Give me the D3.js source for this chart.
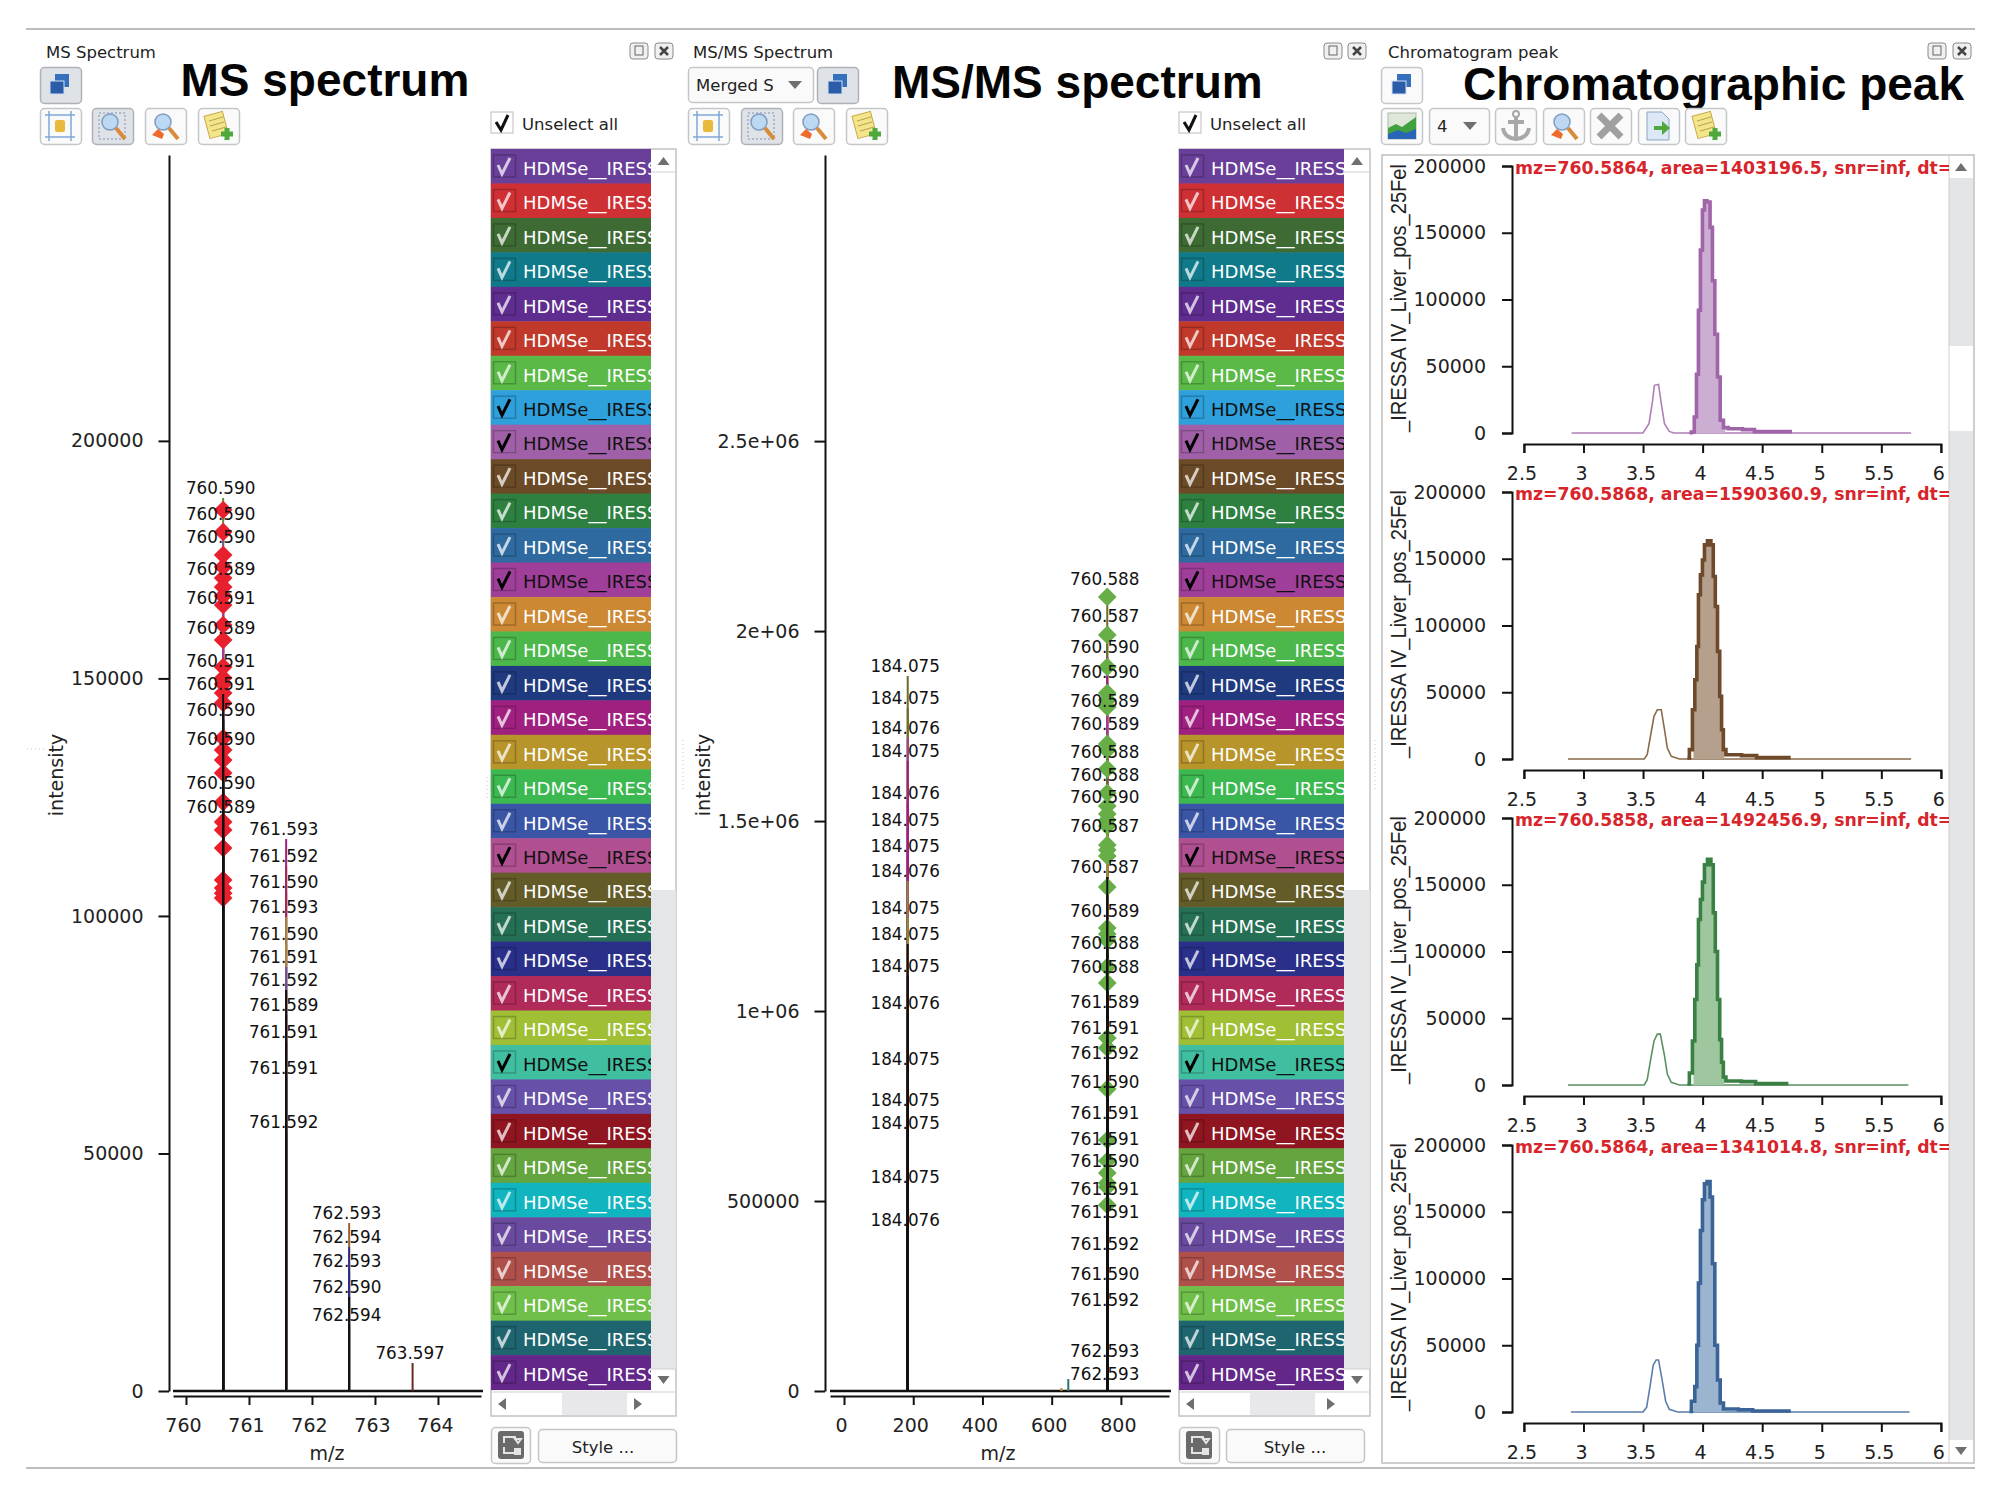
<!DOCTYPE html>
<html lang="en">
<head>
<meta charset="UTF-8">
<title>MS spectrum, MS/MS spectrum, chromatographic peak</title>
<script src="https://d3js.org/d3.v7.min.js"></script>
<style>
    html, body { margin: 0; padding: 0; background: #fff; }
    svg { display: block; }
    text { font-family: "DejaVu Sans", sans-serif; fill: #222; }
    .heading { font-family: "Liberation Sans", Arial, sans-serif; font-weight: 700; font-size: 46px; fill: #050505; }
    .ui { font-size: 16.5px; fill: #222; }
    .tick text, .axis-label { font-size: 19px; }
    .peak-label { font-size: 16.8px; fill: #111; }
    .axis path, .axis line { stroke: #111; stroke-width: 2px; }
    .row-text { font-size: 18px; }
    .red-title { font-weight: 700; font-size: 17.3px; fill: #d8252b; }
</style>
</head>
<body>
<svg id="page" width="2000" height="1499"></svg>
<script>
// ---- MS spectrum values
const msMz = [760.59, 761.59, 762.59, 763.597];
const msLabels760 = ["760.590","760.590","760.590","760.589","760.591","760.589","760.591","760.591","760.590","760.590","760.590","760.589"];
const msHeights760 = [187970,182500,177660,170930,164820,158510,151560,146720,141250,135140,125880,120830];
const msColors760 = ["#6b8a2a","#7a5a8a","#8a4a90","#8a4a90","#a03f9a","#a03f9a","#5a5aa8","#111","#111","#111","#111","#111"];
const msLabels761 = ["761.593","761.592","761.590","761.593","761.590","761.591","761.592","761.589","761.591","761.591","761.592"];
const msHeights761 = [116200,110500,105040,99780,94090,89250,84410,79150,73460,65890,54520];
const msColors761 = ["#a02080","#a02a5a","#a02a5a","#a08a3a","#a08a3a","#6650a8","#111","#111","#111","#111","#111"];
const msLabels762 = ["762.593","762.594","762.593","762.590","762.594"];
const msHeights762 = [35360,30310,25260,19790,13890];
const msColors762 = ["#a0602b","#2a2f8a","#2a2f8a","#111","#111"];
const msLabels763 = ["763.597"];
const msHeights763 = [5890];
const msColors763 = ["#6b2a20"];
const msDiamonds = [185450,180820,175980,173450,171140,169240,167350,165450,161240,158090,152400,150090,148820,146930,144820,137460,134930,132830,130090,123980,119780,118090,114300,107570,105880,104800,103780];
const msYTicks = [0,50000,100000,150000,200000];
const msXTicks = [760,761,762,763,764];

// ---- MS/MS spectrum values
const ms2Labels184 = ["184.075","184.075","184.076","184.075","184.076","184.075","184.075","184.076","184.075","184.075","184.075","184.076","184.075","184.075","184.075","184.075","184.076"];
const ms2Heights184 = [1881900,1797700,1718700,1658200,1547600,1476600,1408100,1342300,1244900,1176500,1092300,994900,847500,739600,679100,536900,423800];
const ms2Colors184 = ["#6b6b2a","#6b6b2a","#a03f9a","#a02080","#a02080","#a02080","#a02080","#8a8a3a","#8a8a3a","#111","#111","#111","#111","#111","#111","#111","#111"];
const ms2Labels760 = ["760.588","760.587","760.590","760.590","760.589","760.589","760.588","760.588","760.590","760.587","760.587","760.589","760.588","760.588","761.589","761.591","761.592","761.590","761.591","761.591","761.590","761.591","761.591","761.592","761.590","761.592","762.593","762.593"];
const ms2Heights760 = [2110900,2013500,1931900,1866100,1789800,1729200,1655500,1595000,1537100,1460800,1352800,1237000,1152800,1089600,997500,929100,863300,787000,705400,636900,579000,505300,444800,360600,281600,213200,79000,18400];
const ms2Colors760 = ["#6b6b2a","#6b6b2a","#a02080","#a02080","#a03f9a","#6b6b2a","#6b6b2a","#a08a3a","#a08a3a","#a08a3a","#111","#111","#111","#111","#111","#111","#111","#111","#111","#111","#111","#111","#111","#111","#111","#111","#111","#111"];
const ms2Small = [648, 628];
const ms2SmallHeights = [31500, 7900];
const ms2SmallColors = ["#257a70", "#cc8833"];
const ms2Diamonds = [2089800,1989800,1905600,1837100,1818700,1800300,1702900,1687100,1637100,1573900,1539700,1518700,1502900,1487100,1437100,1423900,1408100,1326500,1218600,1202800,1187000,1116000,1073900,929100,902800,794900,660600,605400,573800,547500,536900,489600];
const ms2YTicks = [0,500000,1000000,1500000,2000000,2500000];
const ms2YLabels = ["0","500000","1e+06","1.5e+06","2e+06","2.5e+06"];
const ms2XTicks = [0,200,400,600,800];

// ---- chromatogram values (retention time, intensity)
const chromTitles = [
    "mz=760.5864, area=1403196.5, snr=inf, dt=",
    "mz=760.5868, area=1590360.9, snr=inf, dt=",
    "mz=760.5858, area=1492456.9, snr=inf, dt=",
    "mz=760.5864, area=1341014.8, snr=inf, dt="
];
const thinRt1 = [2.90,3.50,3.55,3.58,3.595,3.63,3.653,3.68,3.72,3.76,5.75];
const thinInt1 = [0,0,7000,24000,35700,36400,22000,7000,1200,0,0];
const mainRt1 = [3.89,3.92,3.94,3.957,3.973,3.99,4.007,4.024,4.05,4.075,4.09,4.115,4.135,4.16,4.19,4.24,4.43,4.44,4.75];
const mainInt1 = [300,700,12000,44000,92000,137000,167000,174000,173000,154000,114000,74000,42000,9500,4000,3200,2500,1000,1000];
const thinRt2 = [2.87,3.51,3.535,3.562,3.592,3.62,3.653,3.68,3.704,3.737,3.805,5.75];
const thinInt2 = [0,0,3200,17000,32000,36900,36900,22000,8200,2000,0,0];
const mainRt2 = [3.872,3.906,3.923,3.946,3.957,3.973,3.99,4.007,4.024,4.058,4.081,4.098,4.115,4.135,4.152,4.166,4.182,4.209,4.445,4.462,4.739];
const mainInt2 = [750,7000,36900,59400,84300,123000,137900,149100,160400,163400,160400,136700,114200,80600,46900,21900,7000,3200,2500,1000,1000];
const thinRt3 = [2.87,3.51,3.535,3.562,3.592,3.62,3.645,3.68,3.704,3.737,3.805,5.727];
const thinInt3 = [0,0,4000,18000,33000,38100,38100,22000,8000,2000,0,0];
const mainRt3 = [3.872,3.906,3.923,3.946,3.957,3.973,3.99,4.007,4.024,4.058,4.081,4.098,4.115,4.135,4.152,4.166,4.182,4.209,4.44,4.45,4.72];
const mainInt3 = [750,9000,33000,64000,90000,124000,139000,152000,165000,169000,165000,129000,100000,64000,34000,17000,6000,3000,2500,1000,1000];
const thinRt4 = [2.894,3.50,3.53,3.56,3.585,3.61,3.63,3.66,3.69,3.72,3.79,5.737];
const thinInt4 = [0,0,3500,20000,35000,39000,39000,24000,8000,2000,0,0];
const mainRt4 = [3.889,3.923,3.946,3.957,3.973,3.99,4.007,4.024,4.05,4.075,4.09,4.115,4.135,4.16,4.19,4.41,4.43,4.74];
const mainInt4 = [500,8000,19000,50000,96500,136000,159000,171000,172600,161000,111000,50000,24000,6700,2200,1700,750,750];
const chromYTicks = [0,50000,100000,150000,200000];
const chromXTicks = [2.5,3,3.5,4,4.5,5,5.5,6];

// ---- sample list shown next to both spectra
const sampleColors = ["#6a3f9a","#cf3034","#3e6b33","#107a8a","#5f2d8f","#c0392b","#5bb947","#2ea0dc","#a060a8","#6b4a27","#2e8040","#2e6aa0","#a03f9a","#cc8833","#4cb84c","#1f3a7f","#a02080","#b8952b","#3cb850","#3a55a5","#b05090","#635b28","#257055","#2a2f8a","#b02a5a","#a0bf35","#40bfa0","#6650a8","#8f1520","#65a53f","#10b5bf","#6a4a9f","#b0504a","#70bf4a","#1f6570","#63278a"];
const blackTextRows = [7, 8, 12, 20, 26];

const svg = d3.select("#page");

// page rules
[29, 1468].forEach(y => {
    svg.append("line").attr("x1", 26).attr("x2", 1975).attr("y1", y).attr("y2", y)
        .attr("stroke", "#bdbdbd").attr("stroke-width", 2);
});

function uiText(x, y, str) {
    return svg.append("text").attr("class", "ui").attr("x", x).attr("y", y)
        .attr("dy", "0.35em").text(str);
}

function button(x, y, w, h, pressed) {
    return svg.append("rect").attr("x", x + 0.5).attr("y", y + 0.5).attr("width", w).attr("height", h)
        .attr("rx", 4).attr("fill", pressed ? "#dfe2e6" : "#fafafa")
        .attr("stroke", pressed ? "#aeb2b8" : "#c4c6c9").attr("stroke-width", 1.5);
}

// little icons, all drawn around the middle of a button
function iconGroup(cx, cy) {
    return svg.append("g").attr("transform", `translate(${cx},${cy})`);
}
function iconBlue(cx, cy) {
    const g = iconGroup(cx, cy);
    g.append("rect").attr("x", -5).attr("y", -11).attr("width", 14).attr("height", 13).attr("fill", "#3470bc");
    g.append("rect").attr("x", -10).attr("y", -4).attr("width", 14).attr("height", 13).attr("fill", "#2a5ca8").attr("stroke", "#cfe0f5").attr("stroke-width", 1);
}
function iconCrop(cx, cy) {
    const g = iconGroup(cx, cy);
    g.append("path").attr("d", "M-15,-11H15M-15,11H15M-11,-15V15M11,-15V15").attr("stroke", "#7fa8d8").attr("stroke-width", 1.5).attr("fill", "none");
    g.append("rect").attr("x", -5).attr("y", -6).attr("width", 10).attr("height", 12).attr("rx", 2).attr("fill", "#e8b93a");
}
function iconGlass(cx, cy, frame) {
    const g = iconGroup(cx, cy);
    if (frame) {
        g.append("rect").attr("x", -13).attr("y", -13).attr("width", 26).attr("height", 26).attr("fill", "none").attr("stroke", "#7f93b8").attr("stroke-dasharray", "2 2");
    }
    g.append("circle").attr("cx", -2).attr("cy", -4).attr("r", 8).attr("fill", "#bcd8f2").attr("stroke", "#7f9cc0").attr("stroke-width", 1.5);
    g.append("path").attr("d", "M4,2L13,13").attr("stroke", "#d98a3a").attr("stroke-width", 4);
    if (!frame) {
        g.append("path").attr("d", "M-13,9L-7,3L-1,8L-3,13Z").attr("fill", "#ee6a2c");
    }
}
function iconNote(cx, cy) {
    const g = iconGroup(cx, cy);
    g.append("rect").attr("x", -11).attr("y", -13).attr("width", 19).attr("height", 23).attr("transform", "rotate(-15)").attr("fill", "#f5e58a").attr("stroke", "#c4aa4a");
    g.append("path").attr("d", "M-9,-5L5,-9M-8,0L6,-4M-6,5L8,1").attr("stroke", "#b5a050");
    g.append("path").attr("d", "M9,2V14M3,8H15").attr("stroke", "#4ea83c").attr("stroke-width", 5);
}
function iconChart(cx, cy) {
    const g = iconGroup(cx, cy);
    g.append("rect").attr("x", -14).attr("y", -13).attr("width", 28).attr("height", 26).attr("fill", "#dfe8d8").attr("stroke", "#b0b8a8");
    g.append("path").attr("d", "M-14,13V2L-6,-2L0,1L14,-9V13Z").attr("fill", "#3fa23f");
    g.append("path").attr("d", "M-14,13V8L-4,4L4,7L14,3V13Z").attr("fill", "#2a66b8");
}
function iconAnchor(cx, cy) {
    const g = iconGroup(cx, cy);
    g.append("path").attr("d", "M0,-10V13M-8,-4H8M-13,2C-12,10 -5,13 0,13C5,13 12,10 13,2").attr("fill", "none").attr("stroke", "#a8a8a8").attr("stroke-width", 4);
    g.append("circle").attr("cy", -12).attr("r", 3).attr("fill", "none").attr("stroke", "#a8a8a8").attr("stroke-width", 2);
}
function iconCross(cx, cy) {
    iconGroup(cx, cy).append("path").attr("d", "M-11,-11L11,11M11,-11L-11,11").attr("stroke", "#a0a0a0").attr("stroke-width", 7);
}
function iconDoc(cx, cy) {
    const g = iconGroup(cx, cy);
    g.append("path").attr("d", "M-11,-14H4L11,-7V14H-11Z").attr("fill", "#dce8f5").attr("stroke", "#8aa4c4");
    g.append("path").attr("d", "M-4,0H4V-5L12,2L4,9V4H-4Z").attr("fill", "#4ea83c");
}
function iconSwap(cx, cy) {
    const g = iconGroup(cx, cy);
    g.append("rect").attr("x", -13).attr("y", -14).attr("width", 26).attr("height", 28).attr("rx", 3).attr("fill", "#6a6a6a");
    g.append("path").attr("d", "M-7,-2V-8H5M-7,2V8H5M7,-2L4,-6H10Z").attr("fill", "none").attr("stroke", "#e4e4e4").attr("stroke-width", 2);
    g.append("rect").attr("x", 3).attr("y", 3).attr("width", 7).attr("height", 7).attr("fill", "#e4e4e4");
}
function windowIcons(x1, x2) {
    [x1, x2].forEach((x, i) => {
        svg.append("rect").attr("x", x).attr("y", 43).attr("width", 18).attr("height", 16).attr("rx", 3)
            .attr("fill", "#f0f0f0").attr("stroke", "#8a8a8a");
        if (i === 0) {
            svg.append("rect").attr("x", x + 5).attr("y", 46).attr("width", 8).attr("height", 9).attr("fill", "none").attr("stroke", "#666");
        } else {
            svg.append("path").attr("d", `M${x + 5},47L${x + 13},55M${x + 13},47L${x + 5},55`).attr("stroke", "#444").attr("stroke-width", 2.5);
        }
    });
}
function arrow(x, y, dir) {
    const s = 6;
    const pts = {
        up: `${x - s},${y + 4} ${x + s},${y + 4} ${x},${y - 4}`,
        down: `${x - s},${y - 4} ${x + s},${y - 4} ${x},${y + 4}`,
        left: `${x + 4},${y - s} ${x + 4},${y + s} ${x - 4},${y}`,
        right: `${x - 4},${y - s} ${x - 4},${y + s} ${x + 4},${y}`
    };
    svg.append("polygon").attr("points", pts[dir]).attr("fill", "#6f6f6f");
}

// sample list with its scroll bars
function sampleList(left, right, barRight, clipId) {
    const top = 149, rowH = 34.46;
    svg.append("rect").attr("x", left).attr("y", top).attr("width", barRight - left).attr("height", 1267)
        .attr("fill", "#fff").attr("stroke", "#c2c2c2").attr("stroke-width", 1.5);
    svg.append("clipPath").attr("id", clipId).append("rect")
        .attr("x", left).attr("y", top).attr("width", right - left).attr("height", 1243);

    const rows = svg.append("g").attr("clip-path", `url(#${clipId})`).selectAll("g")
        .data(sampleColors).enter().append("g")
        .attr("transform", (d, i) => `translate(${left},${top + i * rowH})`);
    rows.append("rect").attr("width", right - left).attr("height", rowH + 0.5).attr("fill", d => d);
    rows.append("rect").attr("x", 2.5).attr("y", 6).attr("width", 22).attr("height", 22)
        .attr("fill", "none").attr("stroke", "rgba(0,0,0,0.22)").attr("stroke-width", 1.5);
    rows.append("path").attr("d", "M7,16L11,25L19,9").attr("fill", "none").attr("stroke-width", 3)
        .attr("stroke", (d, i) => blackTextRows.includes(i) ? "#000" : "rgba(255,255,255,0.72)");
    rows.append("text").attr("class", "row-text").attr("x", 32).attr("y", 19.5).attr("dy", "0.35em")
        .style("fill", (d, i) => blackTextRows.includes(i) ? "#111" : "#fff")
        .text("HDMSe__IRESSA");

    // vertical bar
    svg.append("rect").attr("x", right).attr("y", 890).attr("width", barRight - right).attr("height", 479).attr("fill", "#e5e6e8");
    svg.append("line").attr("x1", right).attr("x2", barRight).attr("y1", 172).attr("y2", 172).attr("stroke", "#d0d0d0");
    svg.append("line").attr("x1", right).attr("x2", barRight).attr("y1", 1369).attr("y2", 1369).attr("stroke", "#d0d0d0");
    arrow((right + barRight) / 2, 161, "up");
    arrow((right + barRight) / 2, 1380, "down");
    // horizontal bar
    svg.append("line").attr("x1", left).attr("x2", barRight).attr("y1", 1392).attr("y2", 1392).attr("stroke", "#d0d0d0");
    svg.append("rect").attr("x", left + 71).attr("y", 1393).attr("width", 65).attr("height", 22).attr("fill", "#e8e8ea");
    arrow(left + 11, 1404, "left");
    arrow(right - 13, 1404, "right");
}

// one stick per annotated peak, tallest first so shorter ones cover it
function drawSticks(g, x, y, mzValues, heights, colors) {
    const rows = d3.range(heights.length).sort((a, b) => heights[b] - heights[a]);
    g.selectAll(null).data(rows).enter().append("line")
        .attr("x1", i => x(mzValues[i])).attr("x2", i => x(mzValues[i]))
        .attr("y1", y(0)).attr("y2", i => y(heights[i]))
        .attr("stroke", i => colors[i]).attr("stroke-width", 2);
}

function drawLabels(g, x, y, mzValues, heights, labels) {
    g.selectAll(null).data(labels).enter().append("text")
        .attr("class", "peak-label").attr("text-anchor", "middle")
        .attr("x", (d, i) => x(mzValues[i]) - 2.5).attr("y", (d, i) => y(heights[i]) - 10).attr("dy", "0.35em")
        .text(d => d);
}

// the coloured stick tops sit under the diamonds, the black lower part on top of them
function drawColumn(g, x, y, mz, heights, colors, labels, diamonds, diamondColor) {
    const mzValues = heights.map(() => mz);
    drawSticks(g, x, y, mzValues, heights, colors);
    if (diamonds) {
        g.selectAll(null).data(diamonds).enter().append("path")
            .attr("d", d3.symbol(d3.symbolSquare).size(175))
            .attr("transform", d => `translate(${x(mz)},${y(d)}) rotate(45)`)
            .attr("fill", diamondColor);
        const black = heights.filter((h, i) => colors[i] === "#111");
        drawSticks(g, x, y, black.map(() => mz), black, black.map(() => "#111"));
    }
    drawLabels(g, x, y, mzValues, heights, labels);
}

function spectrumAxes(x, y, yTicks, yFormat, xTicks, baseEnd, mzX, yLabelX) {
    svg.append("g").attr("class", "axis").attr("transform", `translate(${y.axisX},0)`)
        .call(d3.axisLeft(y).tickValues(yTicks).tickFormat(yFormat).tickSizeInner(10.5).tickSizeOuter(0).tickPadding(15));
    const xAxis = svg.append("g").attr("class", "axis").attr("transform", "translate(0,1396)")
        .call(d3.axisBottom(x).tickValues(xTicks).tickFormat(d3.format("d")).tickSizeInner(9).tickSizeOuter(0).tickPadding(14));
    xAxis.selectAll("text").attr("dx", -3);
    svg.append("line").attr("x1", x.range()[0]).attr("x2", baseEnd).attr("y1", 1391).attr("y2", 1391)
        .attr("stroke", "#111").attr("stroke-width", 2.5);
    svg.append("text").attr("class", "axis-label").attr("x", mzX).attr("y", 1453).attr("dy", "0.35em")
        .attr("text-anchor", "middle").text("m/z");
    svg.append("text").attr("class", "axis-label").attr("text-anchor", "middle")
        .attr("transform", `translate(${yLabelX},775) rotate(-90)`).attr("dy", "0.35em").text("intensity");
}

// ---- panel 1, MS spectrum
uiText(46, 52, "MS Spectrum");
svg.append("text").attr("class", "heading").attr("x", 180.5).attr("y", 96).text("MS spectrum");
windowIcons(630, 655);
button(40, 67, 41, 36, true); iconBlue(60, 85);
button(40, 108, 41, 36); iconCrop(60, 126);
button(92, 108, 41, 36, true); iconGlass(112, 126, true);
button(145, 108, 41, 36); iconGlass(165, 126, false);
button(198, 108, 41, 36); iconNote(218, 126);

const msX = d3.scaleLinear().domain([759.794, 764.683]).range([173, 481]);
const msY = d3.scaleLinear().domain([0, 260178]).range([1391, 155]);
msY.axisX = 169;
spectrumAxes(msX, msY, msYTicks, d3.format("d"), msXTicks, 483, 327, 56);
const msPlot = svg.append("g");
drawColumn(msPlot, msX, msY, msMz[0], msHeights760, msColors760, msLabels760, msDiamonds, "#e8202e");
drawColumn(msPlot, msX, msY, msMz[1], msHeights761, msColors761, msLabels761);
drawColumn(msPlot, msX, msY, msMz[2], msHeights762, msColors762, msLabels762);
drawColumn(msPlot, msX, msY, msMz[3], msHeights763, msColors763, msLabels763);

svg.append("rect").attr("x", 491).attr("y", 112).attr("width", 22).attr("height", 21).attr("fill", "#fff").attr("stroke", "#bbb");
svg.append("path").attr("d", "M496,122L501,130L508,115").attr("fill", "none").attr("stroke", "#111").attr("stroke-width", 3);
uiText(522, 124, "Unselect all");
sampleList(491, 651, 676, "listClip1");
button(491, 1427, 39, 36); iconSwap(511, 1445);
button(538, 1429, 138, 33);
uiText(603, 1447, "Style ...").attr("text-anchor", "middle");

// ---- panel 2, MS/MS spectrum
uiText(693, 52, "MS/MS Spectrum");
svg.append("text").attr("class", "heading").attr("x", 892).attr("y", 98).text("MS/MS spectrum");
windowIcons(1324, 1348);
button(688, 67, 125, 35);
uiText(696, 85, "Merged S");
svg.append("polygon").attr("points", "788,81 802,81 795,89").attr("fill", "#6f6f6f");
button(817, 67, 41, 36, true); iconBlue(838, 85);
button(688, 108, 41, 36); iconCrop(708, 126);
button(741, 108, 41, 36, true); iconGlass(761, 126, true);
button(793, 108, 41, 36); iconGlass(813, 126, false);
button(846, 108, 41, 36); iconNote(866, 126);

const ms2X = d3.scaleLinear().domain([-40.5, 939]).range([830, 1169]);
const ms2Y = d3.scaleLinear().domain([0, 3253000]).range([1391, 155]);
ms2Y.axisX = 825;
spectrumAxes(ms2X, ms2Y, ms2YTicks, (d, i) => ms2YLabels[i], ms2XTicks, 1171, 998, 703);
const ms2Plot = svg.append("g");
drawSticks(ms2Plot, ms2X, ms2Y, ms2Small, ms2SmallHeights, ms2SmallColors);
drawColumn(ms2Plot, ms2X, ms2Y, 184.075, ms2Heights184, ms2Colors184, ms2Labels184);
drawColumn(ms2Plot, ms2X, ms2Y, 760.6, ms2Heights760, ms2Colors760, ms2Labels760, ms2Diamonds, "#66ae45");

svg.append("rect").attr("x", 1179).attr("y", 112).attr("width", 22).attr("height", 21).attr("fill", "#fff").attr("stroke", "#bbb");
svg.append("path").attr("d", "M1184,122L1189,130L1196,115").attr("fill", "none").attr("stroke", "#111").attr("stroke-width", 3);
uiText(1210, 124, "Unselect all");
sampleList(1179, 1344, 1370, "listClip2");
button(1179, 1427, 40, 36); iconSwap(1199, 1445);
button(1226, 1429, 138, 33);
uiText(1295, 1447, "Style ...").attr("text-anchor", "middle");

// ---- panel 3, chromatographic peaks
uiText(1388, 52, "Chromatogram peak");
svg.append("text").attr("class", "heading").attr("x", 1463).attr("y", 100).text("Chromatographic peak");
windowIcons(1928, 1953);
button(1381, 67, 41, 36); iconBlue(1402, 85);
button(1381, 108, 41, 36); iconChart(1402, 126);
button(1429, 108, 60, 36);
uiText(1437, 126, "4");
svg.append("polygon").attr("points", "1463,122 1477,122 1470,130").attr("fill", "#6f6f6f");
button(1495, 108, 41, 36); iconAnchor(1516, 126);
button(1543, 108, 41, 36); iconGlass(1564, 126, false);
button(1590, 108, 41, 36); iconCross(1610, 126);
button(1638, 108, 41, 36); iconDoc(1658, 126);
button(1685, 108, 41, 36); iconNote(1706, 126);

svg.append("rect").attr("x", 1382).attr("y", 155).attr("width", 592).attr("height", 1308)
    .attr("fill", "#fff").attr("stroke", "#bfbfbf").attr("stroke-width", 1.5);
svg.append("rect").attr("x", 1949).attr("y", 178).attr("width", 24).attr("height", 168).attr("fill", "#e4e5e7");
svg.append("rect").attr("x", 1949).attr("y", 431).attr("width", 24).attr("height", 1009).attr("fill", "#e4e5e7");
svg.append("line").attr("x1", 1949).attr("x2", 1949).attr("y1", 155).attr("y2", 1463).attr("stroke", "#cfcfcf");
arrow(1961, 167, "up");
arrow(1961, 1451, "down");
svg.append("clipPath").attr("id", "chromClip").append("rect").attr("x", 1500).attr("y", 155).attr("width", 449).attr("height", 1308);

const chromPlots = [
    { top: 166, line: "#a064a8", thin: "#b07fb8", fill: "#cbaed2", thinRt: thinRt1, thinInt: thinInt1, rt: mainRt1, int: mainInt1 },
    { top: 492, line: "#6e4a2a", thin: "#8a6a4a", fill: "#b5a08e", thinRt: thinRt2, thinInt: thinInt2, rt: mainRt2, int: mainInt2 },
    { top: 818, line: "#3a8045", thin: "#5a9063", fill: "#9fc79f", thinRt: thinRt3, thinInt: thinInt3, rt: mainRt3, int: mainInt3 },
    { top: 1145, line: "#3a6496", thin: "#5a7eaa", fill: "#9bb4d0", thinRt: thinRt4, thinInt: thinInt4, rt: mainRt4, int: mainInt4 }
];
const chromX = d3.scaleLinear().domain([2.5, 6]).range([1523.9, 1940.9]);

chromPlots.forEach((p, k) => {
    const y = d3.scaleLinear().domain([0, 200000]).range([p.top + 267, p.top]);
    svg.append("g").attr("class", "axis").attr("transform", "translate(1512,0)")
        .call(d3.axisLeft(y).tickValues(chromYTicks).tickFormat(d3.format("d")).tickSizeInner(10).tickSizeOuter(10).tickPadding(16));
    const xAxis = svg.append("g").attr("class", "axis").attr("transform", `translate(0,${p.top + 278})`)
        .call(d3.axisBottom(chromX).tickValues(chromXTicks).tickFormat(d => d).tickSizeInner(9).tickSizeOuter(9).tickPadding(14));
    xAxis.selectAll("text").attr("dx", -2.5);

    svg.append("text").attr("transform", `translate(1406,${p.top + 266}) rotate(-90)`)
        .style("font-family", "'Liberation Sans', sans-serif")
        .attr("font-size", 22).attr("textLength", 268).attr("lengthAdjust", "spacingAndGlyphs")
        .text("_IRESSA IV_Liver_pos_25Fel");

    svg.append("g").attr("clip-path", "url(#chromClip)").append("text").attr("class", "red-title")
        .attr("x", 1515).attr("y", p.top + 2).attr("dy", "0.35em").text(chromTitles[k]);

    const thinLine = d3.line().x((d, i) => chromX(p.thinRt[i])).y(d => y(d));
    svg.append("path").attr("d", thinLine(p.thinInt)).attr("fill", "none").attr("stroke", p.thin).attr("stroke-width", 1.6);

    const area = d3.area().curve(d3.curveStep).x(i => chromX(p.rt[i])).y0(y(0)).y1(i => y(p.int[i]));
    const inFill = d3.range(p.rt.length).filter(i => p.rt[i] >= 3.92 && p.rt[i] <= 4.2);
    svg.append("path").attr("d", area(inFill)).attr("fill", p.fill);

    const mainLine = d3.line().curve(d3.curveStep).x((d, i) => chromX(p.rt[i])).y(d => y(d));
    svg.append("path").attr("d", mainLine(p.int)).attr("fill", "none").attr("stroke", p.line).attr("stroke-width", 3.6);
});

// faint splitter handles between the docks
[[27, 749, 45, 749], [487, 777, 487, 800], [683, 740, 683, 790], [1375, 740, 1375, 790]].forEach(s => {
    svg.append("line").attr("x1", s[0]).attr("y1", s[1]).attr("x2", s[2]).attr("y2", s[3])
        .attr("stroke", "#c8c8c8").attr("stroke-dasharray", "1 3");
});
</script>
</body>
</html>
